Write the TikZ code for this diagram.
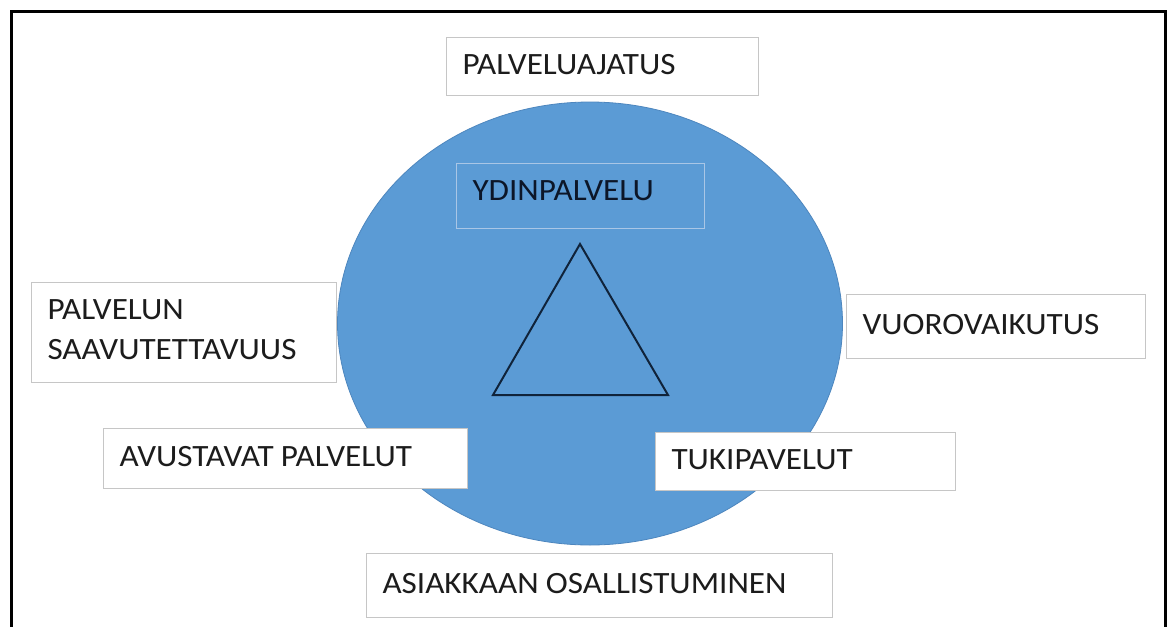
\documentclass[tikz,border=0pt]{standalone}
\usepackage{fontspec}
\setmainfont{Carlito}[FakeStretch=1.07]
\usetikzlibrary{shapes.geometric}
\definecolor{coreblue}{HTML}{5B9BD5}
\definecolor{coreedge}{HTML}{4D86BE}
\definecolor{boxedge}{HTML}{C6C6C6}
\definecolor{ydinedge}{HTML}{A9C6E6}
\definecolor{txt}{HTML}{1C1C1C}
\definecolor{ydintxt}{HTML}{0C1628}
\definecolor{triedge}{HTML}{10233A}
\tikzset{
  lbox/.style={draw=boxedge, line width=1pt, fill=white, anchor=north west,
    align=left, inner xsep=16pt, inner ysep=0pt, text=txt,
    font=\fontsize{31}{40}\selectfont, text height=20pt, text depth=4pt,
    execute at begin node={\spaceskip=0.23em\relax}},
  ybox/.style={lbox, fill=none, draw=ydinedge, text=ydintxt},
  core/.style={ellipse, fill=coreblue, draw=coreedge, line width=0.8pt, inner sep=0pt},
  tri/.style={draw=triedge, line width=2pt, line join=miter},
  frame/.style={draw=black, line width=3pt}
}
\begin{document}
\begin{tikzpicture}[x=1pt,y=-1pt]
\useasboundingbox (0,0) rectangle (1171,627);
\fill[white] (0,0) rectangle (1171,627);
\draw[frame] (11,640) -- (11,11) -- (1165,11) -- (1165,640);
\node[core, minimum width=505pt, minimum height=443pt] (core) at (590,323.5) {};
\coordinate (ta) at (580,244);
\coordinate (tl) at (493,395);
\coordinate (tr) at (668,395);
\draw[tri] (ta) -- (tl) -- (tr) -- cycle;
\node[lbox, text width=280pt, minimum height=58pt] (aj) at (446,37) {PALVELUAJATUS};
\node[ybox, text width=216pt, minimum height=65pt, text depth=12pt] (yd) at (456,163) {YDINPALVELU};
\node[lbox, text width=273pt, minimum height=100pt, text height=20pt, text depth=46pt] (sa) at (31,282) {PALVELUN\\SAAVUTETTAVUUS};
\node[lbox, text width=267pt, minimum height=64pt] (vu) at (846,294) {VUOROVAIKUTUS};
\node[lbox, text width=332pt, minimum height=60pt] (av) at (103,428) {AVUSTAVAT PALVELUT};
\node[lbox, text width=268pt, minimum height=58pt] (tu) at (655,432) {TUKIPAVELUT};
\node[lbox, text width=434pt, minimum height=64pt] (as) at (366,553) {ASIAKKAAN OSALLISTUMINEN};
\end{tikzpicture}
\end{document}
